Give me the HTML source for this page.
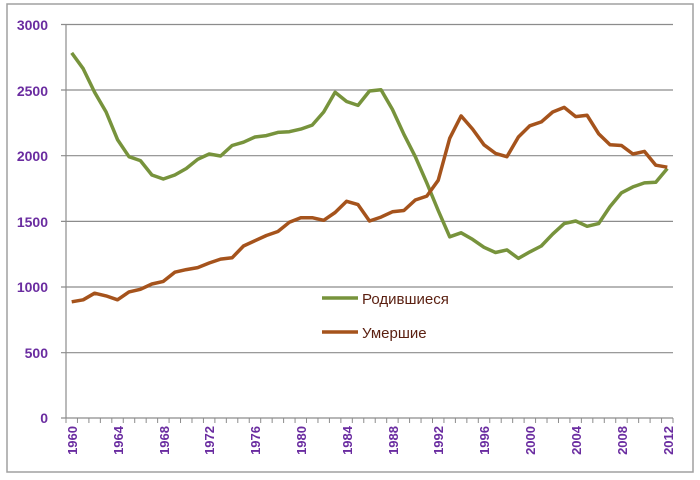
<!DOCTYPE html>
<html><head><meta charset="utf-8"><style>
body{margin:0;background:#fff;}
svg{display:block;font-family:"Liberation Sans",Arial,sans-serif;}
.yl{fill:#6a2ca0;font-weight:bold;font-size:14px;text-anchor:end}
.xl{fill:#6a2ca0;font-weight:bold;font-size:13px;text-anchor:end}
</style></head><body>
<svg width="700" height="480" viewBox="0 0 700 480">
<rect x="7" y="4" width="686" height="468" fill="#fff" stroke="#a0a0a0" stroke-width="1.5"/>
<g stroke="#8c8c8c" stroke-width="1.2">
<line x1="61" y1="24.5" x2="673" y2="24.5"/>
<line x1="61" y1="90" x2="673" y2="90"/>
<line x1="61" y1="155.7" x2="673" y2="155.7"/>
<line x1="61" y1="221.4" x2="673" y2="221.4"/>
<line x1="61" y1="287" x2="673" y2="287"/>
<line x1="61" y1="352.7" x2="673" y2="352.7"/>
<line x1="61" y1="418" x2="673" y2="418"/>
<line x1="66" y1="24" x2="66" y2="418"/>
</g>
<g id="ticks" stroke="#8c8c8c" stroke-width="1"></g>
<text class="yl" x="48" y="30">3000</text>
<text class="yl" x="48" y="96">2500</text>
<text class="yl" x="48" y="161">2000</text>
<text class="yl" x="48" y="227">1500</text>
<text class="yl" x="48" y="292">1000</text>
<text class="yl" x="48" y="358">500</text>
<text class="yl" x="48" y="423">0</text>
<g class="xl">
<text transform="translate(77,426) rotate(-90)">1960</text>
<text transform="translate(123,426) rotate(-90)">1964</text>
<text transform="translate(169,426) rotate(-90)">1968</text>
<text transform="translate(214,426) rotate(-90)">1972</text>
<text transform="translate(260,426) rotate(-90)">1976</text>
<text transform="translate(306,426) rotate(-90)">1980</text>
<text transform="translate(352,426) rotate(-90)">1984</text>
<text transform="translate(398,426) rotate(-90)">1988</text>
<text transform="translate(443,426) rotate(-90)">1992</text>
<text transform="translate(489,426) rotate(-90)">1996</text>
<text transform="translate(535,426) rotate(-90)">2000</text>
<text transform="translate(581,426) rotate(-90)">2004</text>
<text transform="translate(627,426) rotate(-90)">2008</text>
<text transform="translate(673,426) rotate(-90)">2012</text>
</g>
<polyline id="b" fill="none" stroke="#77933c" stroke-width="3.5" stroke-linejoin="round"/>
<polyline id="d" fill="none" stroke="#a5531c" stroke-width="3.5" stroke-linejoin="round"/>
<line x1="322" y1="298" x2="358" y2="298" stroke="#77933c" stroke-width="3.5"/>
<text x="362" y="304" font-size="15" fill="#5a1f10">Родившиеся</text>
<line x1="322" y1="332" x2="358" y2="332" stroke="#a5531c" stroke-width="3.5"/>
<text x="362" y="338" font-size="15" fill="#5a1f10">Умершие</text>
</svg>
<script>
var B=[2780,2660,2480,2330,2120,1990,1960,1850,1820,1850,1900,1970,2010,1995,2075,2100,2140,2150,2175,2180,2200,2230,2330,2480,2410,2380,2490,2500,2350,2160,1990,1790,1580,1380,1410,1360,1300,1260,1280,1215,1265,1310,1400,1480,1500,1460,1480,1610,1715,1760,1790,1795,1900];
var D=[885,900,950,930,900,960,980,1020,1040,1110,1130,1145,1180,1210,1220,1310,1350,1390,1420,1490,1525,1525,1505,1565,1650,1625,1500,1530,1570,1580,1660,1690,1810,2130,2300,2200,2080,2015,1990,2140,2225,2255,2330,2365,2295,2305,2165,2080,2075,2010,2030,1925,1910];
var w=(673-66)/53;
function pts(a){return a.map(function(v,i){return (66+w*(i+0.5)).toFixed(1)+","+(418-v*0.13133).toFixed(1)}).join(" ");}
document.getElementById("b").setAttribute("points",pts(B));
document.getElementById("d").setAttribute("points",pts(D));
var g=document.getElementById("ticks"),s="";
for(var i=0;i<=53;i++){var x=66+w*i;s+='<line x1="'+x+'" y1="418" x2="'+x+'" y2="423"/>';}
g.innerHTML=s;
</script>
</body></html>
